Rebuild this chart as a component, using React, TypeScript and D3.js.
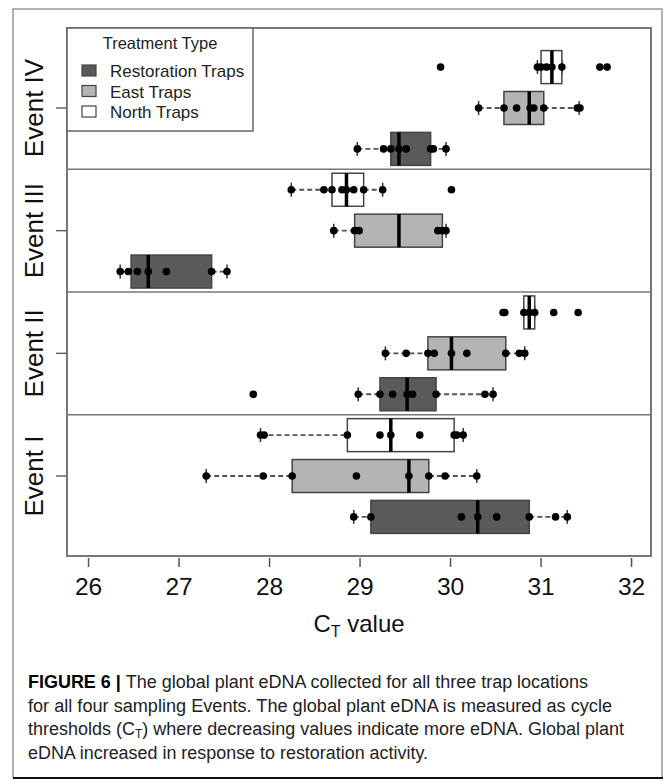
import * as d3 from "d3";

// Event I at bottom, Event IV at top
const events = ["Event I", "Event II", "Event III", "Event IV"];
const traps = ["Restoration Traps", "East Traps", "North Traps"];
const trapFill = ["#5a5a5a", "#b4b4b4", "#ffffff"];
const xTicks = [26, 27, 28, 29, 30, 31, 32];

// five-number summaries, [event][trap]
const q1 = [
  [29.12, 28.25, 28.86],
  [29.22, 29.75, 30.81],
  [26.47, 28.94, 28.69],
  [29.34, 30.59, 31.0],
];
const medians = [
  [30.3, 29.54, 29.34],
  [29.52, 30.01, 30.87],
  [26.66, 29.43, 28.85],
  [29.43, 30.87, 31.12],
];
const q3 = [
  [30.87, 29.76, 30.04],
  [29.84, 30.61, 30.93],
  [27.36, 29.91, 29.04],
  [29.78, 31.03, 31.23],
];
const whiskerLo = [
  [28.93, 27.3, 27.9],
  [28.98, 29.28, 30.81],
  [26.35, 28.71, 28.24],
  [28.97, 30.31, 30.96],
];
const whiskerHi = [
  [31.29, 30.29, 30.14],
  [30.47, 30.82, 30.93],
  [27.53, 29.95, 29.25],
  [29.95, 31.42, 31.23],
];

// raw observations, [event][trap]
const points = [
  [
    [28.93, 29.12, 30.12, 30.3, 30.51, 30.87, 31.16, 31.29],
    [27.3, 27.93, 28.25, 28.96, 29.54, 29.76, 29.94, 30.29],
    [27.9, 27.94, 28.86, 29.22, 29.34, 29.66, 30.04, 30.07, 30.14],
  ],
  [
    [27.82, 28.98, 29.22, 29.36, 29.52, 29.58, 29.84, 30.38, 30.47],
    [29.28, 29.51, 29.75, 29.82, 30.01, 30.18, 30.61, 30.76, 30.82],
    [30.58, 30.6, 30.81, 30.87, 30.93, 31.14, 31.41],
  ],
  [
    [26.35, 26.44, 26.54, 26.66, 26.86, 27.36, 27.53],
    [28.71, 28.94, 28.99, 29.86, 29.91, 29.95],
    [28.24, 28.6, 28.69, 28.8, 28.85, 28.93, 29.04, 29.25, 30.01],
  ],
  [
    [28.97, 29.26, 29.34, 29.43, 29.51, 29.78, 29.81, 29.95],
    [30.31, 30.59, 30.73, 30.88, 30.92, 31.03, 31.4, 31.43],
    [29.89, 30.96, 31.0, 31.06, 31.12, 31.23, 31.65, 31.73],
  ],
];

const trapOffset = [1 / 3, 0, -1 / 3];

export default function App() {
  const left = 67, right = 651, top = 28, bottom = 556;
  const x = d3.scaleLinear().domain([25.762, 32.215]).range([left, right]);
  const y = d3.scaleLinear().domain([-0.652, 3.652]).range([top, bottom]);
  const pos = (i) => 3 - i; // Event IV on top
  const halfBox = 16.5;
  const font = "Liberation Sans, Arial, sans-serif";

  return (
    <svg width={665} height={781} style={{ position: "absolute", left: 0, top: 0, background: "#fff" }}>
      {/* figure frame */}
      <path d="M13,778 L13,9 L662,9 L662,778" fill="none" stroke="#999" strokeWidth={1.5} />
      <line x1={13} x2={663} y1={778} y2={778} stroke="#111" strokeWidth={2} />

      {/* plot box */}
      <rect x={left} y={top} width={right - left} height={bottom - top} fill="none" stroke="#777" strokeWidth={2} />
      {[0.5, 1.5, 2.5].map((d) => (
        <line key={d} x1={left} x2={right} y1={y(d)} y2={y(d)} stroke="#777" strokeWidth={1.5} />
      ))}

      {/* boxes */}
      {events.map((ev, i) =>
        traps.map((t, j) => {
          const cy = y(pos(i) + trapOffset[j]);
          return (
            <g key={ev + t}>
              <line x1={x(whiskerLo[i][j])} x2={x(q1[i][j])} y1={cy} y2={cy} stroke="#555" strokeWidth={1.8} strokeDasharray="5,3" />
              <line x1={x(q3[i][j])} x2={x(whiskerHi[i][j])} y1={cy} y2={cy} stroke="#555" strokeWidth={1.8} strokeDasharray="5,3" />
              <line x1={x(whiskerLo[i][j])} x2={x(whiskerLo[i][j])} y1={cy - 7} y2={cy + 7} stroke="#333" strokeWidth={1.5} />
              <line x1={x(whiskerHi[i][j])} x2={x(whiskerHi[i][j])} y1={cy - 7} y2={cy + 7} stroke="#333" strokeWidth={1.5} />
              <rect
                x={x(q1[i][j])}
                y={cy - halfBox}
                width={x(q3[i][j]) - x(q1[i][j])}
                height={halfBox * 2}
                fill={trapFill[j]}
                stroke="#444"
                strokeWidth={1.5}
              />
              <line x1={x(medians[i][j])} x2={x(medians[i][j])} y1={cy - halfBox} y2={cy + halfBox} stroke="#000" strokeWidth={3.5} />
              {points[i][j].map((v, k) => (
                <circle key={k} cx={x(v)} cy={cy} r={3.8} fill="#000" />
              ))}
            </g>
          );
        })
      )}

      {/* legend */}
      <rect x={left} y={top} width={186} height={103} fill="#fff" stroke="#666" strokeWidth={1.5} />
      <text x={160} y={49} textAnchor="middle" fontFamily={font} fontSize={16.5} fill="#222">
        Treatment Type
      </text>
      {traps.map((t, j) => (
        <g key={t}>
          <rect x={82} y={65 + j * 20.5} width={14} height={11} fill={trapFill[j]} stroke="#444" strokeWidth={1.2} />
          <text x={110} y={77 + j * 20.5} fontFamily={font} fontSize={17} fill="#222">
            {t}
          </text>
        </g>
      ))}

      {/* y axis */}
      {events.map((ev, i) => (
        <g key={ev}>
          <line x1={56} x2={left} y1={y(pos(i))} y2={y(pos(i))} stroke="#666" strokeWidth={1.5} />
          <text
            transform={`translate(43,${y(pos(i))}) rotate(-90)`}
            textAnchor="middle"
            fontFamily={font}
            fontSize={26}
            fill="#111"
          >
            {ev}
          </text>
        </g>
      ))}

      {/* x axis */}
      {xTicks.map((t) => (
        <g key={t}>
          <line x1={x(t)} x2={x(t)} y1={558} y2={567} stroke="#555" strokeWidth={1.5} />
          <text x={x(t)} y={595} textAnchor="middle" fontFamily={font} fontSize={24.5} fill="#111">
            {t}
          </text>
        </g>
      ))}
      <text x={359} y={632} textAnchor="middle" fontFamily={font} fontSize={24} fill="#111">
        C<tspan fontSize={16} dy={5}>T</tspan>
        <tspan dy={-5}> value</tspan>
      </text>

      {/* caption */}
      <g fontFamily={font} fontSize={18} fill="#222">
        <text x={28} y={688} textLength={560} lengthAdjust="spacingAndGlyphs">
          <tspan fontWeight="bold" fill="#000">FIGURE 6 | </tspan>The global plant eDNA collected for all three trap locations
        </text>
        <text x={28} y={711.5} textLength={584} lengthAdjust="spacingAndGlyphs">
          for all four sampling Events. The global plant eDNA is measured as cycle
        </text>
        <text x={28} y={735} textLength={596} lengthAdjust="spacingAndGlyphs">
          thresholds (C<tspan fontSize={12} dy={3}>T</tspan><tspan dy={-3}>) where decreasing values indicate more eDNA. Global plant</tspan>
        </text>
        <text x={28} y={758.5} textLength={400} lengthAdjust="spacingAndGlyphs">
          eDNA increased in response to restoration activity.
        </text>
      </g>
    </svg>
  );
}
